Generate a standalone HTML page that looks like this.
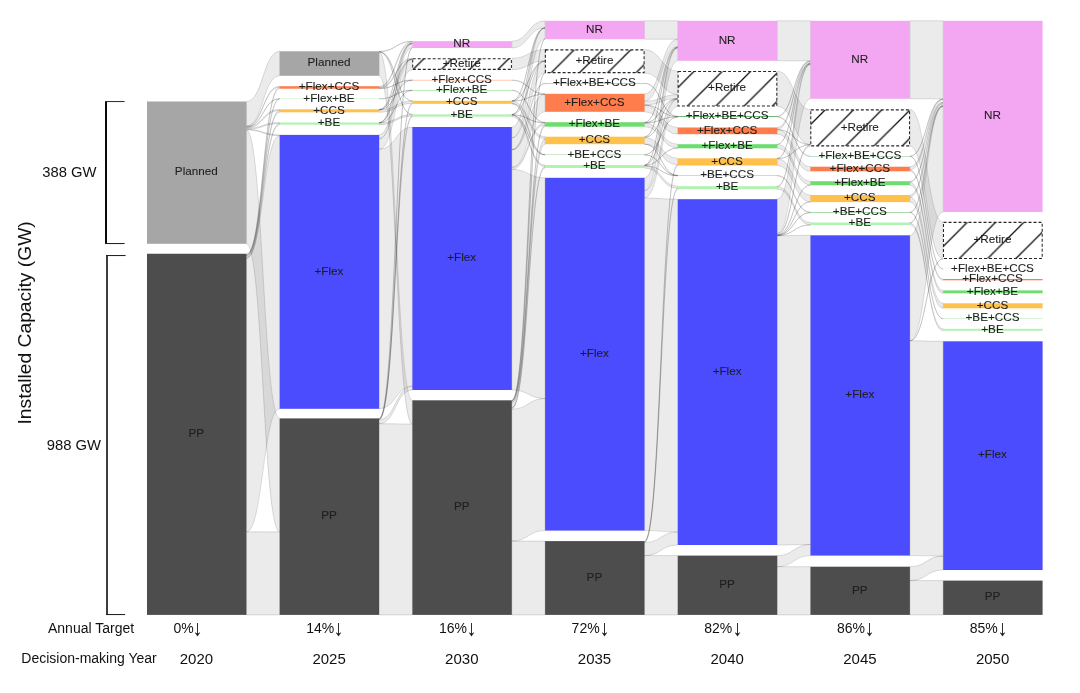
<!DOCTYPE html>
<html lang="en">
<head>
<meta charset="utf-8">
<title>Installed Capacity Sankey</title>
<style>
html,body{margin:0;padding:0;background:#fff;}
body{width:1080px;height:693px;overflow:hidden;font-family:"Liberation Sans",Arial,sans-serif;}
svg{display:block;}
.links path{fill:rgba(0,0,0,0.078);stroke:rgba(0,0,0,0.16);stroke-width:0.8;}
.lab text{font-size:11.7px;fill:#1e1e1e;stroke:#1e1e1e;stroke-width:0.08px;text-anchor:middle;}
.tg{font-size:14px;fill:#111;text-anchor:start;}
.ar{font-family:"WenQuanYi Zen Hei","NanumGothic",sans-serif;font-size:15px;fill:#111;stroke:#111;stroke-width:0.35px;text-anchor:middle;}
.yr{font-size:15px;fill:#111;text-anchor:middle;}
.ax{font-size:14px;fill:#111;}
</style>
</head>
<body>
<svg width="1080" height="693" viewBox="0 0 1080 693" font-family="'Liberation Sans',Arial,sans-serif">
<defs>
<pattern id="hatch" patternUnits="userSpaceOnUse" width="28.28" height="28.28" x="1.84" y="0">
<path d="M-2,2L2,-2M-2,30.28L30.28,-2M26.28,30.28L30.28,26.28" stroke="#0a0a0a" stroke-width="1.25" fill="none"/>
</pattern>
</defs>
<rect width="1080" height="693" fill="#fff"/>
<g class="links">
<path d="M246.4,101.5C263.05,101.5 263.05,51.3 279.7,51.3L279.7,75.8C263.05,75.8 263.05,126.03 246.4,126.03Z"/>
<path d="M246.4,126.03C263.05,126.03 263.05,86.2 279.7,86.2L279.7,87.19C263.05,87.19 263.05,127.03 246.4,127.03Z"/>
<path d="M246.4,127.03C263.05,127.03 263.05,98.8 279.7,98.8L279.7,98.9C263.05,98.9 263.05,127.13 246.4,127.13Z"/>
<path d="M246.4,127.13C263.05,127.13 263.05,109.3 279.7,109.3L279.7,110.49C263.05,110.49 263.05,128.32 246.4,128.32Z"/>
<path d="M246.4,128.32C263.05,128.32 263.05,122.5 279.7,122.5L279.7,123.49C263.05,123.49 263.05,129.32 246.4,129.32Z"/>
<path d="M246.4,129.32C263.05,129.32 263.05,134.9 279.7,134.9L279.7,135.69C263.05,135.69 263.05,130.11 246.4,130.11Z"/>
<path d="M246.4,130.11C263.05,130.11 263.05,418.4 279.7,418.4L279.7,531.94C263.05,531.94 263.05,243.8 246.4,243.8Z"/>
<path d="M246.4,253.75C263.05,253.75 263.05,87.19 279.7,87.19L279.7,88.7C263.05,88.7 263.05,255.26 246.4,255.26Z"/>
<path d="M246.4,255.26C263.05,255.26 263.05,98.9 279.7,98.9L279.7,99C263.05,99 263.05,255.36 246.4,255.36Z"/>
<path d="M246.4,255.36C263.05,255.36 263.05,110.49 279.7,110.49L279.7,112.3C263.05,112.3 263.05,257.17 246.4,257.17Z"/>
<path d="M246.4,257.17C263.05,257.17 263.05,123.49 279.7,123.49L279.7,124.7C263.05,124.7 263.05,258.37 246.4,258.37Z"/>
<path d="M246.4,258.37C263.05,258.37 263.05,135.69 279.7,135.69L279.7,408.8C263.05,408.8 263.05,531.83 246.4,531.83Z"/>
<path d="M246.4,531.83C263.05,531.83 263.05,531.94 279.7,531.94L279.7,614.9C263.05,614.9 263.05,614.9 246.4,614.9Z"/>
<path d="M379.1,51.3C395.75,51.3 395.75,41.2 412.4,41.2L412.4,41.54C395.75,41.54 395.75,51.64 379.1,51.64Z"/>
<path d="M379.1,51.64C395.75,51.64 395.75,100.8 412.4,100.8L412.4,101.01C395.75,101.01 395.75,51.85 379.1,51.85Z"/>
<path d="M379.1,51.85C395.75,51.85 395.75,114.4 412.4,114.4L412.4,114.58C395.75,114.58 395.75,52.03 379.1,52.03Z"/>
<path d="M379.1,52.03C395.75,52.03 395.75,400.3 412.4,400.3L412.4,424.03C395.75,424.03 395.75,75.8 379.1,75.8Z"/>
<path d="M379.1,86.2C395.75,86.2 395.75,41.54 412.4,41.54L412.4,42.93C395.75,42.93 395.75,87.59 379.1,87.59Z"/>
<path d="M379.1,87.59C395.75,87.59 395.75,58.3 412.4,58.3L412.4,59.13C395.75,59.13 395.75,88.42 379.1,88.42Z"/>
<path d="M379.1,88.42C395.75,88.42 395.75,79.9 412.4,79.9L412.4,80.18C395.75,80.18 395.75,88.7 379.1,88.7Z"/>
<path d="M379.1,98.8C395.75,98.8 395.75,90.1 412.4,90.1L412.4,90.3C395.75,90.3 395.75,99 379.1,99Z"/>
<path d="M379.1,109.3C395.75,109.3 395.75,42.93 412.4,42.93L412.4,43.35C395.75,43.35 395.75,109.72 379.1,109.72Z"/>
<path d="M379.1,109.72C395.75,109.72 395.75,59.13 412.4,59.13L412.4,59.2C395.75,59.2 395.75,109.8 379.1,109.8Z"/>
<path d="M379.1,109.8C395.75,109.8 395.75,80.18 412.4,80.18L412.4,80.3C395.75,80.3 395.75,109.92 379.1,109.92Z"/>
<path d="M379.1,109.92C395.75,109.92 395.75,101.01 412.4,101.01L412.4,103.38C395.75,103.38 395.75,112.3 379.1,112.3Z"/>
<path d="M379.1,122.5C395.75,122.5 395.75,43.35 412.4,43.35L412.4,43.62C395.75,43.62 395.75,122.77 379.1,122.77Z"/>
<path d="M379.1,122.77C395.75,122.77 395.75,59.2 412.4,59.2L412.4,59.25C395.75,59.25 395.75,122.82 379.1,122.82Z"/>
<path d="M379.1,122.82C395.75,122.82 395.75,90.3 412.4,90.3L412.4,90.6C395.75,90.6 395.75,123.12 379.1,123.12Z"/>
<path d="M379.1,123.12C395.75,123.12 395.75,114.58 412.4,114.58L412.4,116.16C395.75,116.16 395.75,124.7 379.1,124.7Z"/>
<path d="M379.1,134.9C395.75,134.9 395.75,43.62 412.4,43.62L412.4,47.57C395.75,47.57 395.75,138.85 379.1,138.85Z"/>
<path d="M379.1,138.85C395.75,138.85 395.75,59.25 412.4,59.25L412.4,69.7C395.75,69.7 395.75,149.32 379.1,149.32Z"/>
<path d="M379.1,149.32C395.75,149.32 395.75,127 412.4,127L412.4,386.07C395.75,386.07 395.75,408.8 379.1,408.8Z"/>
<path d="M379.1,418.4C395.75,418.4 395.75,47.57 412.4,47.57L412.4,48C395.75,48 395.75,418.83 379.1,418.83Z"/>
<path d="M379.1,418.83C395.75,418.83 395.75,103.38 412.4,103.38L412.4,103.8C395.75,103.8 395.75,419.25 379.1,419.25Z"/>
<path d="M379.1,419.25C395.75,419.25 395.75,116.16 412.4,116.16L412.4,116.7C395.75,116.7 395.75,419.79 379.1,419.79Z"/>
<path d="M379.1,419.79C395.75,419.79 395.75,386.07 412.4,386.07L412.4,390C395.75,390 395.75,423.73 379.1,423.73Z"/>
<path d="M379.1,423.73C395.75,423.73 395.75,424.03 412.4,424.03L412.4,614.9C395.75,614.9 395.75,614.9 379.1,614.9Z"/>
<path d="M511.8,41.2C528.45,41.2 528.45,20.8 545.1,20.8L545.1,27.6C528.45,27.6 528.45,48 511.8,48Z"/>
<path d="M511.8,58.3C528.45,58.3 528.45,49.5 545.1,49.5L545.1,60.91C528.45,60.91 528.45,69.7 511.8,69.7Z"/>
<path d="M511.8,79.9C528.45,79.9 528.45,93.8 545.1,93.8L545.1,94.2C528.45,94.2 528.45,80.3 511.8,80.3Z"/>
<path d="M511.8,90.1C528.45,90.1 528.45,122.2 545.1,122.2L545.1,122.7C528.45,122.7 528.45,90.6 511.8,90.6Z"/>
<path d="M511.8,100.8C528.45,100.8 528.45,27.6 545.1,27.6L545.1,27.77C528.45,27.77 528.45,100.97 511.8,100.97Z"/>
<path d="M511.8,100.97C528.45,100.97 528.45,60.91 545.1,60.91L545.1,60.99C528.45,60.99 528.45,101.05 511.8,101.05Z"/>
<path d="M511.8,101.05C528.45,101.05 528.45,94.2 545.1,94.2L545.1,94.36C528.45,94.36 528.45,101.22 511.8,101.22Z"/>
<path d="M511.8,101.22C528.45,101.22 528.45,136.7 545.1,136.7L545.1,139.02C528.45,139.02 528.45,103.53 511.8,103.53Z"/>
<path d="M511.8,103.53C528.45,103.53 528.45,154.6 545.1,154.6L545.1,154.87C528.45,154.87 528.45,103.8 511.8,103.8Z"/>
<path d="M511.8,114.4C528.45,114.4 528.45,27.77 545.1,27.77L545.1,27.95C528.45,27.95 528.45,114.57 511.8,114.57Z"/>
<path d="M511.8,114.57C528.45,114.57 528.45,60.99 545.1,60.99L545.1,61.07C528.45,61.07 528.45,114.66 511.8,114.66Z"/>
<path d="M511.8,114.66C528.45,114.66 528.45,122.7 545.1,122.7L545.1,122.95C528.45,122.95 528.45,114.91 511.8,114.91Z"/>
<path d="M511.8,115.04C528.45,115.04 528.45,165 545.1,165L545.1,166.66C528.45,166.66 528.45,116.7 511.8,116.7Z"/>
<path d="M511.8,114.91C528.45,114.91 528.45,154.87 545.1,154.87L545.1,155C528.45,155 528.45,115.04 511.8,115.04Z"/>
<path d="M511.8,127C528.45,127 528.45,27.95 545.1,27.95L545.1,38.78C528.45,38.78 528.45,137.83 511.8,137.83Z"/>
<path d="M511.8,137.83C528.45,137.83 528.45,61.07 545.1,61.07L545.1,72.8C528.45,72.8 528.45,149.55 511.8,149.55Z"/>
<path d="M511.8,149.55C528.45,149.55 528.45,83.2 545.1,83.2L545.1,83.6C528.45,83.6 528.45,149.95 511.8,149.95Z"/>
<path d="M511.8,149.95C528.45,149.95 528.45,94.36 545.1,94.36L545.1,111.8C528.45,111.8 528.45,167.37 511.8,167.37Z"/>
<path d="M511.8,167.37C528.45,167.37 528.45,122.95 545.1,122.95L545.1,124.98C528.45,124.98 528.45,169.4 511.8,169.4Z"/>
<path d="M511.8,169.4C528.45,169.4 528.45,177.8 545.1,177.8L545.1,398.53C528.45,398.53 528.45,390 511.8,390Z"/>
<path d="M511.8,400.3C528.45,400.3 528.45,38.78 545.1,38.78L545.1,39.2C528.45,39.2 528.45,400.72 511.8,400.72Z"/>
<path d="M511.8,400.72C528.45,400.72 528.45,72.8 545.1,72.8L545.1,73C528.45,73 528.45,400.92 511.8,400.92Z"/>
<path d="M511.8,400.92C528.45,400.92 528.45,124.98 545.1,124.98L545.1,126.7C528.45,126.7 528.45,402.64 511.8,402.64Z"/>
<path d="M511.8,402.64C528.45,402.64 528.45,139.02 545.1,139.02L545.1,144.2C528.45,144.2 528.45,407.82 511.8,407.82Z"/>
<path d="M511.8,407.82C528.45,407.82 528.45,166.66 545.1,166.66L545.1,168C528.45,168 528.45,409.16 511.8,409.16Z"/>
<path d="M511.8,409.16C528.45,409.16 528.45,398.53 545.1,398.53L545.1,530.6C528.45,530.6 528.45,541.14 511.8,541.14Z"/>
<path d="M511.8,541.14C528.45,541.14 528.45,541.1 545.1,541.1L545.1,614.9C528.45,614.9 528.45,614.9 511.8,614.9Z"/>
<path d="M644.5,20.8C661.15,20.8 661.15,20.8 677.8,20.8L677.8,39.21C661.15,39.21 661.15,39.2 644.5,39.2Z"/>
<path d="M644.5,49.5C661.15,49.5 661.15,71.2 677.8,71.2L677.8,94.71C661.15,94.71 661.15,73 644.5,73Z"/>
<path d="M644.5,83.2C661.15,83.2 661.15,116.2 677.8,116.2L677.8,116.6C661.15,116.6 661.15,83.6 644.5,83.6Z"/>
<path d="M644.5,93.8C661.15,93.8 661.15,39.21 677.8,39.21L677.8,46.62C661.15,46.62 661.15,101.21 644.5,101.21Z"/>
<path d="M644.5,101.21C661.15,101.21 661.15,94.71 677.8,94.71L677.8,98.46C661.15,98.46 661.15,104.96 644.5,104.96Z"/>
<path d="M644.5,104.96C661.15,104.96 661.15,116.6 677.8,116.6L677.8,116.74C661.15,116.74 661.15,105.1 644.5,105.1Z"/>
<path d="M644.5,105.1C661.15,105.1 661.15,127.5 677.8,127.5L677.8,134.2C661.15,134.2 661.15,111.8 644.5,111.8Z"/>
<path d="M644.5,122.2C661.15,122.2 661.15,46.62 677.8,46.62L677.8,47.12C661.15,47.12 661.15,122.7 644.5,122.7Z"/>
<path d="M644.5,122.7C661.15,122.7 661.15,98.46 677.8,98.46L677.8,98.64C661.15,98.64 661.15,122.88 644.5,122.88Z"/>
<path d="M644.5,123C661.15,123 661.15,144.2 677.8,144.2L677.8,147.9C661.15,147.9 661.15,126.7 644.5,126.7Z"/>
<path d="M644.5,122.88C661.15,122.88 661.15,116.74 677.8,116.74L677.8,116.87C661.15,116.87 661.15,123 644.5,123Z"/>
<path d="M644.5,136.7C661.15,136.7 661.15,47.12 677.8,47.12L677.8,47.71C661.15,47.71 661.15,137.3 644.5,137.3Z"/>
<path d="M644.5,137.3C661.15,137.3 661.15,98.64 677.8,98.64L677.8,98.89C661.15,98.89 661.15,137.54 644.5,137.54Z"/>
<path d="M644.5,144.08C661.15,144.08 661.15,175.4 677.8,175.4L677.8,175.52C661.15,175.52 661.15,144.2 644.5,144.2Z"/>
<path d="M644.5,137.54C661.15,137.54 661.15,158.3 677.8,158.3L677.8,164.84C661.15,164.84 661.15,144.08 644.5,144.08Z"/>
<path d="M644.5,154.73C661.15,154.73 661.15,175.52 677.8,175.52L677.8,175.78C661.15,175.78 661.15,155 644.5,155Z"/>
<path d="M644.5,154.6C661.15,154.6 661.15,116.87 677.8,116.87L677.8,117C661.15,117 661.15,154.73 644.5,154.73Z"/>
<path d="M644.5,165C661.15,165 661.15,47.71 677.8,47.71L677.8,47.91C661.15,47.91 661.15,165.19 644.5,165.19Z"/>
<path d="M644.5,165.19C661.15,165.19 661.15,98.89 677.8,98.89L677.8,98.95C661.15,98.95 661.15,165.26 644.5,165.26Z"/>
<path d="M644.5,165.26C661.15,165.26 661.15,147.9 677.8,147.9L677.8,148.3C661.15,148.3 661.15,165.66 644.5,165.66Z"/>
<path d="M644.5,165.66C661.15,165.66 661.15,175.78 677.8,175.78L677.8,175.9C661.15,175.9 661.15,165.77 644.5,165.77Z"/>
<path d="M644.5,165.77C661.15,165.77 661.15,186.2 677.8,186.2L677.8,188.43C661.15,188.43 661.15,168 644.5,168Z"/>
<path d="M644.5,177.8C661.15,177.8 661.15,47.91 677.8,47.91L677.8,60.8C661.15,60.8 661.15,190.69 644.5,190.69Z"/>
<path d="M644.5,190.69C661.15,190.69 661.15,98.95 677.8,98.95L677.8,106.3C661.15,106.3 661.15,198.03 644.5,198.03Z"/>
<path d="M644.5,198.03C661.15,198.03 661.15,199.2 677.8,199.2L677.8,531.9C661.15,531.9 661.15,530.6 644.5,530.6Z"/>
<path d="M644.5,541.1C661.15,541.1 661.15,164.84 677.8,164.84L677.8,165.5C661.15,165.5 661.15,541.76 644.5,541.76Z"/>
<path d="M644.5,541.76C661.15,541.76 661.15,188.43 677.8,188.43L677.8,189.2C661.15,189.2 661.15,542.53 644.5,542.53Z"/>
<path d="M644.5,542.53C661.15,542.53 661.15,531.9 677.8,531.9L677.8,545C661.15,545 661.15,555.62 644.5,555.62Z"/>
<path d="M644.5,555.62C661.15,555.62 661.15,555.6 677.8,555.6L677.8,614.9C661.15,614.9 661.15,614.9 644.5,614.9Z"/>
<path d="M777.2,20.8C793.85,20.8 793.85,20.8 810.5,20.8L810.5,60.8C793.85,60.8 793.85,60.8 777.2,60.8Z"/>
<path d="M777.2,71.2C793.85,71.2 793.85,109.5 810.5,109.5L810.5,144.6C793.85,144.6 793.85,106.3 777.2,106.3Z"/>
<path d="M777.2,116.65C793.85,116.65 793.85,156.1 810.5,156.1L810.5,156.45C793.85,156.45 793.85,117 777.2,117Z"/>
<path d="M777.2,116.2C793.85,116.2 793.85,60.8 810.5,60.8L810.5,61.25C793.85,61.25 793.85,116.65 777.2,116.65Z"/>
<path d="M777.2,127.5C793.85,127.5 793.85,61.25 810.5,61.25L810.5,63.14C793.85,63.14 793.85,129.4 777.2,129.4Z"/>
<path d="M777.2,129.4C793.85,129.4 793.85,144.6 810.5,144.6L810.5,144.8C793.85,144.8 793.85,129.6 777.2,129.6Z"/>
<path d="M777.2,129.6C793.85,129.6 793.85,166.7 810.5,166.7L810.5,171.3C793.85,171.3 793.85,134.2 777.2,134.2Z"/>
<path d="M777.2,144.2C793.85,144.2 793.85,63.14 810.5,63.14L810.5,63.44C793.85,63.44 793.85,144.5 777.2,144.5Z"/>
<path d="M777.2,144.5C793.85,144.5 793.85,181.2 810.5,181.2L810.5,185C793.85,185 793.85,148.3 777.2,148.3Z"/>
<path d="M777.2,158.3C793.85,158.3 793.85,63.44 810.5,63.44L810.5,63.85C793.85,63.85 793.85,158.71 777.2,158.71Z"/>
<path d="M777.2,158.71C793.85,158.71 793.85,144.8 810.5,144.8L810.5,144.86C793.85,144.86 793.85,158.77 777.2,158.77Z"/>
<path d="M777.2,158.77C793.85,158.77 793.85,195 810.5,195L810.5,201.73C793.85,201.73 793.85,165.5 777.2,165.5Z"/>
<path d="M777.2,175.4C793.85,175.4 793.85,212 810.5,212L810.5,212.5C793.85,212.5 793.85,175.9 777.2,175.9Z"/>
<path d="M777.2,186.2C793.85,186.2 793.85,63.85 810.5,63.85L810.5,64.45C793.85,64.45 793.85,186.8 777.2,186.8Z"/>
<path d="M777.2,186.8C793.85,186.8 793.85,222.5 810.5,222.5L810.5,224.9C793.85,224.9 793.85,189.2 777.2,189.2Z"/>
<path d="M777.2,199.2C793.85,199.2 793.85,64.45 810.5,64.45L810.5,98.8C793.85,98.8 793.85,233.55 777.2,233.55Z"/>
<path d="M777.2,233.55C793.85,233.55 793.85,144.86 810.5,144.86L810.5,146.2C793.85,146.2 793.85,234.89 777.2,234.89Z"/>
<path d="M777.2,234.89C793.85,234.89 793.85,185 810.5,185L810.5,185.2C793.85,185.2 793.85,235.1 777.2,235.1Z"/>
<path d="M777.2,235.1C793.85,235.1 793.85,201.73 810.5,201.73L810.5,202.1C793.85,202.1 793.85,235.46 777.2,235.46Z"/>
<path d="M777.2,235.46C793.85,235.46 793.85,212.5 810.5,212.5L810.5,212.7C793.85,212.7 793.85,235.66 777.2,235.66Z"/>
<path d="M777.2,235.66C793.85,235.66 793.85,224.9 810.5,224.9L810.5,225C793.85,225 793.85,235.76 777.2,235.76Z"/>
<path d="M777.2,235.76C793.85,235.76 793.85,235.3 810.5,235.3L810.5,544.51C793.85,544.51 793.85,545 777.2,545Z"/>
<path d="M777.2,555.6C793.85,555.6 793.85,544.51 810.5,544.51L810.5,555.6C793.85,555.6 793.85,566.7 777.2,566.7Z"/>
<path d="M777.2,566.7C793.85,566.7 793.85,566.7 810.5,566.7L810.5,614.9C793.85,614.9 793.85,614.9 777.2,614.9Z"/>
<path d="M909.9,20.8C926.55,20.8 926.55,20.8 943.2,20.8L943.2,98.82C926.55,98.82 926.55,98.8 909.9,98.8Z"/>
<path d="M909.9,109.5C926.55,109.5 926.55,222 943.2,222L943.2,258.7C926.55,258.7 926.55,146.2 909.9,146.2Z"/>
<path d="M909.9,156.4C926.55,156.4 926.55,268.95 943.2,268.95L943.2,269C926.55,269 926.55,156.45 909.9,156.45Z"/>
<path d="M909.9,156.1C926.55,156.1 926.55,98.82 943.2,98.82L943.2,99.12C926.55,99.12 926.55,156.4 909.9,156.4Z"/>
<path d="M909.9,166.7C926.55,166.7 926.55,99.12 943.2,99.12L943.2,102.42C926.55,102.42 926.55,170 909.9,170Z"/>
<path d="M909.9,170C926.55,170 926.55,279 943.2,279L943.2,280.3C926.55,280.3 926.55,171.3 909.9,171.3Z"/>
<path d="M909.9,181.2C926.55,181.2 926.55,102.42 943.2,102.42L943.2,103.52C926.55,103.52 926.55,182.3 909.9,182.3Z"/>
<path d="M909.9,182.3C926.55,182.3 926.55,290.4 943.2,290.4L943.2,293.3C926.55,293.3 926.55,185.2 909.9,185.2Z"/>
<path d="M909.9,195C926.55,195 926.55,103.52 943.2,103.52L943.2,105.62C926.55,105.62 926.55,197.1 909.9,197.1Z"/>
<path d="M909.9,197.1C926.55,197.1 926.55,303.3 943.2,303.3L943.2,308.3C926.55,308.3 926.55,202.1 909.9,202.1Z"/>
<path d="M909.9,212.4C926.55,212.4 926.55,318.5 943.2,318.5L943.2,318.8C926.55,318.8 926.55,212.7 909.9,212.7Z"/>
<path d="M909.9,212C926.55,212 926.55,105.62 943.2,105.62L943.2,106.02C926.55,106.02 926.55,212.4 909.9,212.4Z"/>
<path d="M909.9,222.5C926.55,222.5 926.55,106.02 943.2,106.02L943.2,106.52C926.55,106.52 926.55,223 909.9,223Z"/>
<path d="M909.9,223C926.55,223 926.55,328.8 943.2,328.8L943.2,330.8C926.55,330.8 926.55,225 909.9,225Z"/>
<path d="M909.9,235.3C926.55,235.3 926.55,106.52 943.2,106.52L943.2,212C926.55,212 926.55,340.76 909.9,340.76Z"/>
<path d="M909.9,340.76C926.55,340.76 926.55,258.7 943.2,258.7L943.2,258.8C926.55,258.8 926.55,340.85 909.9,340.85Z"/>
<path d="M909.9,340.85C926.55,340.85 926.55,341.3 943.2,341.3L943.2,556.09C926.55,556.09 926.55,555.6 909.9,555.6Z"/>
<path d="M909.9,566.7C926.55,566.7 926.55,556.09 943.2,556.09L943.2,570C926.55,570 926.55,580.61 909.9,580.61Z"/>
<path d="M909.9,580.61C926.55,580.61 926.55,580.6 943.2,580.6L943.2,614.9C926.55,614.9 926.55,614.9 909.9,614.9Z"/>
</g>
<g class="nodes" shape-rendering="auto">
<rect x="147" y="101.5" width="99.4" height="142.3" fill="#a6a6a6"/>
<rect x="147" y="253.75" width="99.4" height="361.15" fill="#4d4d4d"/>
<rect x="279.7" y="51.3" width="99.4" height="24.5" fill="#a6a6a6"/>
<rect x="279.7" y="86.2" width="99.4" height="2.5" fill="#ff7d4c"/>
<rect x="279.7" y="98.8" width="99.4" height="0.2" fill="#6fdc6f"/>
<rect x="279.7" y="109.3" width="99.4" height="3" fill="#ffc04c"/>
<rect x="279.7" y="122.5" width="99.4" height="2.2" fill="#b1f3b1"/>
<rect x="279.7" y="134.9" width="99.4" height="273.9" fill="#4c4cff"/>
<rect x="279.7" y="418.4" width="99.4" height="196.5" fill="#4d4d4d"/>
<rect x="412.4" y="41.2" width="99.4" height="6.8" fill="#f3a7f3"/>
<rect x="412.4" y="58.3" width="99.4" height="11.4" fill="#fff"/>
<rect x="412.7" y="58.65" width="98.7" height="10.7" fill="url(#hatch)" stroke="#262626" stroke-width="1.05" stroke-dasharray="3 2"/>
<rect x="412.4" y="79.9" width="99.4" height="0.4" fill="#ff7d4c"/>
<rect x="412.4" y="90.1" width="99.4" height="0.5" fill="#6fdc6f"/>
<rect x="412.4" y="100.8" width="99.4" height="3" fill="#ffc04c"/>
<rect x="412.4" y="114.4" width="99.4" height="2.3" fill="#b1f3b1"/>
<rect x="412.4" y="127" width="99.4" height="263" fill="#4c4cff"/>
<rect x="412.4" y="400.3" width="99.4" height="214.6" fill="#4d4d4d"/>
<rect x="545.1" y="20.8" width="99.4" height="18.4" fill="#f3a7f3"/>
<rect x="545.1" y="49.5" width="99.4" height="23.5" fill="#fff"/>
<rect x="545.4" y="49.85" width="98.7" height="22.8" fill="url(#hatch)" stroke="#262626" stroke-width="1.05" stroke-dasharray="3 2"/>
<rect x="545.1" y="83.2" width="99.4" height="0.4" fill="#4ca64c"/>
<rect x="545.1" y="93.8" width="99.4" height="18" fill="#ff7d4c"/>
<rect x="545.1" y="122.2" width="99.4" height="4.5" fill="#6fdc6f"/>
<rect x="545.1" y="136.7" width="99.4" height="7.5" fill="#ffc04c"/>
<rect x="545.1" y="154.6" width="99.4" height="0.4" fill="#84c884"/>
<rect x="545.1" y="165" width="99.4" height="3" fill="#b1f3b1"/>
<rect x="545.1" y="177.8" width="99.4" height="352.8" fill="#4c4cff"/>
<rect x="545.1" y="541.1" width="99.4" height="73.8" fill="#4d4d4d"/>
<rect x="677.8" y="20.8" width="99.4" height="40" fill="#f3a7f3"/>
<rect x="677.8" y="71.2" width="99.4" height="35.1" fill="#fff"/>
<rect x="678.1" y="71.55" width="98.7" height="34.4" fill="url(#hatch)" stroke="#262626" stroke-width="1.05" stroke-dasharray="3 2"/>
<rect x="677.8" y="116.2" width="99.4" height="0.8" fill="#4ca64c"/>
<rect x="677.8" y="127.5" width="99.4" height="6.7" fill="#ff7d4c"/>
<rect x="677.8" y="144.2" width="99.4" height="4.1" fill="#6fdc6f"/>
<rect x="677.8" y="158.3" width="99.4" height="7.2" fill="#ffc04c"/>
<rect x="677.8" y="175.4" width="99.4" height="0.5" fill="#84c884"/>
<rect x="677.8" y="186.2" width="99.4" height="3" fill="#b1f3b1"/>
<rect x="677.8" y="199.2" width="99.4" height="345.8" fill="#4c4cff"/>
<rect x="677.8" y="555.6" width="99.4" height="59.3" fill="#4d4d4d"/>
<rect x="810.5" y="20.8" width="99.4" height="78" fill="#f3a7f3"/>
<rect x="810.5" y="109.5" width="99.4" height="36.7" fill="#fff"/>
<rect x="810.8" y="109.85" width="98.7" height="36" fill="url(#hatch)" stroke="#262626" stroke-width="1.05" stroke-dasharray="3 2"/>
<rect x="810.5" y="156.1" width="99.4" height="0.35" fill="#4ca64c"/>
<rect x="810.5" y="166.7" width="99.4" height="4.6" fill="#ff7d4c"/>
<rect x="810.5" y="181.2" width="99.4" height="4" fill="#6fdc6f"/>
<rect x="810.5" y="195" width="99.4" height="7.1" fill="#ffc04c"/>
<rect x="810.5" y="212" width="99.4" height="0.7" fill="#84c884"/>
<rect x="810.5" y="222.5" width="99.4" height="2.5" fill="#b1f3b1"/>
<rect x="810.5" y="235.3" width="99.4" height="320.3" fill="#4c4cff"/>
<rect x="810.5" y="566.7" width="99.4" height="48.2" fill="#4d4d4d"/>
<rect x="943.2" y="20.8" width="99.4" height="191.2" fill="#f3a7f3"/>
<rect x="943.2" y="222" width="99.4" height="36.8" fill="#fff"/>
<rect x="943.5" y="222.35" width="98.7" height="36.1" fill="url(#hatch)" stroke="#262626" stroke-width="1.05" stroke-dasharray="3 2"/>
<rect x="943.2" y="268.95" width="99.4" height="0.05" fill="#4ca64c"/>
<rect x="943.2" y="279" width="99.4" height="1.3" fill="#ff7d4c"/>
<rect x="943.2" y="290.4" width="99.4" height="2.9" fill="#6fdc6f"/>
<rect x="943.2" y="303.3" width="99.4" height="5" fill="#ffc04c"/>
<rect x="943.2" y="318.5" width="99.4" height="0.3" fill="#84c884"/>
<rect x="943.2" y="328.8" width="99.4" height="2" fill="#b1f3b1"/>
<rect x="943.2" y="341.3" width="99.4" height="228.7" fill="#4c4cff"/>
<rect x="943.2" y="580.6" width="99.4" height="34.3" fill="#4d4d4d"/>
</g>
<g class="lab">
<text x="196.3" y="175.35">Planned</text>
<text x="196.3" y="437.02">PP</text>
<text x="329" y="66.25">Planned</text>
<text x="329" y="90.15">+Flex+CCS</text>
<text x="329" y="101.6">+Flex+BE</text>
<text x="329" y="113.5">+CCS</text>
<text x="329" y="126.3">+BE</text>
<text x="329" y="274.55">+Flex</text>
<text x="329" y="519.35">PP</text>
<text x="461.7" y="47.3">NR</text>
<text x="461.7" y="66.7">+Retire</text>
<text x="461.7" y="82.8">+Flex+CCS</text>
<text x="461.7" y="93.05">+Flex+BE</text>
<text x="461.7" y="105">+CCS</text>
<text x="461.7" y="118.25">+BE</text>
<text x="461.7" y="261.2">+Flex</text>
<text x="461.7" y="510.3">PP</text>
<text x="594.4" y="32.7">NR</text>
<text x="594.4" y="63.95">+Retire</text>
<text x="594.4" y="86.1">+Flex+BE+CCS</text>
<text x="594.4" y="105.5">+Flex+CCS</text>
<text x="594.4" y="127.15">+Flex+BE</text>
<text x="594.4" y="143.15">+CCS</text>
<text x="594.4" y="157.5">+BE+CCS</text>
<text x="594.4" y="169.2">+BE</text>
<text x="594.4" y="356.9">+Flex</text>
<text x="594.4" y="580.7">PP</text>
<text x="727.1" y="43.5">NR</text>
<text x="727.1" y="91.45">+Retire</text>
<text x="727.1" y="119.3">+Flex+BE+CCS</text>
<text x="727.1" y="133.55">+Flex+CCS</text>
<text x="727.1" y="148.95">+Flex+BE</text>
<text x="727.1" y="164.6">+CCS</text>
<text x="727.1" y="178.35">+BE+CCS</text>
<text x="727.1" y="190.4">+BE</text>
<text x="727.1" y="374.8">+Flex</text>
<text x="727.1" y="587.95">PP</text>
<text x="859.8" y="62.5">NR</text>
<text x="859.8" y="130.55">+Retire</text>
<text x="859.8" y="158.97">+Flex+BE+CCS</text>
<text x="859.8" y="171.7">+Flex+CCS</text>
<text x="859.8" y="185.9">+Flex+BE</text>
<text x="859.8" y="201.25">+CCS</text>
<text x="859.8" y="215.05">+BE+CCS</text>
<text x="859.8" y="226.45">+BE</text>
<text x="859.8" y="398.15">+Flex</text>
<text x="859.8" y="593.5">PP</text>
<text x="992.5" y="119.1">NR</text>
<text x="992.5" y="243.1">+Retire</text>
<text x="992.5" y="271.68">+Flex+BE+CCS</text>
<text x="992.5" y="282.35">+Flex+CCS</text>
<text x="992.5" y="294.55">+Flex+BE</text>
<text x="992.5" y="308.5">+CCS</text>
<text x="992.5" y="321.35">+BE+CCS</text>
<text x="992.5" y="332.5">+BE</text>
<text x="992.5" y="458.35">+Flex</text>
<text x="992.5" y="600.45">PP</text>
</g>
<g class="brackets">
<rect x="105" y="101" width="2" height="143" fill="#0a0a0a"/>
<rect x="105" y="101" width="19.6" height="1.05" fill="#333"/>
<rect x="105" y="243" width="19.6" height="1.05" fill="#222"/>
<rect x="106.1" y="255" width="1.8" height="360" fill="#2a2a2a"/>
<rect x="106.1" y="255" width="19.5" height="1.05" fill="#222"/>
<rect x="106.1" y="614" width="19" height="1.05" fill="#222"/>
</g>
<text class="ax" x="96.5" y="177" text-anchor="end" style="font-size:14.8px">388 GW</text>
<text class="ax" x="101" y="450" text-anchor="end" style="font-size:14.8px">988 GW</text>
<text transform="translate(30.6,424.5) rotate(-90)" style="font-size:19.25px;fill:#111">Installed Capacity (GW)</text>
<text class="ax" x="48" y="633.3">Annual Target</text>
<text class="ax" x="21.3" y="662.5">Decision-making Year</text>
<text class="tg" x="173.5" y="633.3">0%<tspan class="ar" x="197.5" y="635">↓</tspan></text>
<text class="yr" x="196.4" y="663.8">2020</text>
<text class="tg" x="306.2" y="633.3">14%<tspan class="ar" x="338.5" y="635">↓</tspan></text>
<text class="yr" x="329.1" y="663.8">2025</text>
<text class="tg" x="438.9" y="633.3">16%<tspan class="ar" x="471.5" y="635">↓</tspan></text>
<text class="yr" x="461.8" y="663.8">2030</text>
<text class="tg" x="571.6" y="633.3">72%<tspan class="ar" x="604.5" y="635">↓</tspan></text>
<text class="yr" x="594.5" y="663.8">2035</text>
<text class="tg" x="704.3" y="633.3">82%<tspan class="ar" x="737.5" y="635">↓</tspan></text>
<text class="yr" x="727.2" y="663.8">2040</text>
<text class="tg" x="837" y="633.3">86%<tspan class="ar" x="869.5" y="635">↓</tspan></text>
<text class="yr" x="859.9" y="663.8">2045</text>
<text class="tg" x="969.7" y="633.3">85%<tspan class="ar" x="1002.5" y="635">↓</tspan></text>
<text class="yr" x="992.6" y="663.8">2050</text>
</svg>
</body>
</html>
